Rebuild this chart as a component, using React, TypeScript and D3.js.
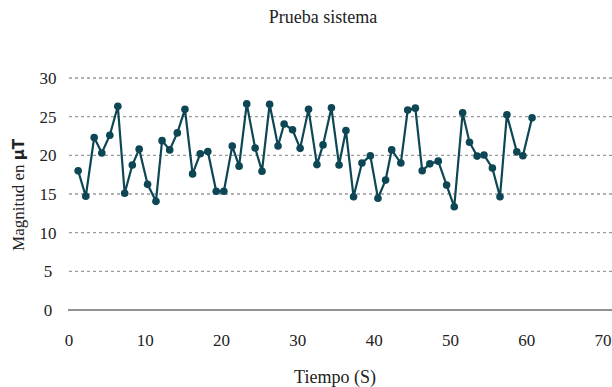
import React from "react";
import * as d3 from "d3";

const title = "Prueba sistema";
const xLabel = "Tiempo (S)";
const yLabelMain = "Magnitud en ";
const yLabelUnit = "μT";

const xTicks = [0, 10, 20, 30, 40, 50, 60, 70];
const yTicks = [0, 5, 10, 15, 20, 25, 30];

const times = [
  1.2, 2.2, 3.3, 4.3, 5.35, 6.4, 7.3, 8.3, 9.2, 10.3,
  11.4, 12.2, 13.2, 14.2, 15.2, 16.2, 17.2, 18.2, 19.3, 20.3,
  21.4, 22.3, 23.3, 24.4, 25.3, 26.3, 27.4, 28.2, 29.3, 30.3,
  31.4, 32.5, 33.3, 34.4, 35.4, 36.3, 37.3, 38.4, 39.5, 40.5,
  41.5, 42.3, 43.5, 44.4, 45.4, 46.3, 47.3, 48.4, 49.5, 50.5,
  51.6, 52.5, 53.5, 54.4, 55.5, 56.5, 57.4, 58.7, 59.5, 60.7,
];

const magnitudes = [
  18.0, 14.7, 22.3, 20.3, 22.6, 26.35, 15.1, 18.75, 20.8, 16.25,
  14.05, 21.9, 20.7, 22.9, 25.95, 17.6, 20.2, 20.5, 15.35, 15.35,
  21.2, 18.6, 26.65, 20.95, 17.95, 26.6, 21.2, 24.05, 23.3, 20.9,
  25.95, 18.8, 21.35, 26.15, 18.75, 23.2, 14.65, 19.0, 19.95, 14.45,
  16.8, 20.7, 19.0, 25.85, 26.1, 18.0, 18.9, 19.25, 16.15, 13.35,
  25.5, 21.7, 19.9, 20.05, 18.35, 14.65, 25.25, 20.45, 19.95, 24.85,
];

const W = 612;
const H = 387;
const color = "#0d4654";
const font = "'Liberation Serif', 'DejaVu Serif', serif";

export default function App() {
  const x = d3.scaleLinear().domain([0, 70]).range([69, 603]);
  const y = d3.scaleLinear().domain([0, 30]).range([310, 78]);
  const data = times.map((t, i) => ({ t, v: magnitudes[i] }));
  const line = d3
    .line<{ t: number; v: number }>()
    .x((d) => x(d.t))
    .y((d) => y(d.v));

  return (
    <svg
      width={W}
      height={H}
      style={{ position: "absolute", left: 0, top: 0, background: "#fff" }}
      fontFamily={font}
    >
      <text x={323} y={23} textAnchor="middle" fontSize={18} fill="#222">
        {title}
      </text>
      {yTicks
        .filter((t) => t > 0)
        .map((t) => (
          <line
            key={"g" + t}
            x1={x(0)}
            x2={W}
            y1={y(t)}
            y2={y(t)}
            stroke="#9a9a9a"
            strokeWidth={1.3}
            strokeDasharray="3,3"
          />
        ))}
      <line x1={x(0) - 1} x2={W} y1={y(0)} y2={y(0)} stroke="#222" strokeWidth={1} />
      {yTicks.map((t) => (
        <text
          key={"y" + t}
          x={48}
          y={y(t)}
          dy="0.35em"
          textAnchor="middle"
          fontSize={17}
          fill="#222"
        >
          {t}
        </text>
      ))}
      {xTicks.map((t) => (
        <text
          key={"x" + t}
          x={x(t)}
          y={340}
          dy="0.35em"
          textAnchor="middle"
          fontSize={17}
          fill="#222"
        >
          {t}
        </text>
      ))}
      <text x={335} y={383} textAnchor="middle" fontSize={18} fill="#222">
        {xLabel}
      </text>
      <text
        transform={`translate(24,195) rotate(-90)`}
        textAnchor="middle"
        fontSize={17}
        fill="#222"
      >
        {yLabelMain}
        <tspan fontFamily="'DejaVu Sans', sans-serif" fontWeight="bold" fontSize={15}>
          {yLabelUnit}
        </tspan>
      </text>
      <path d={line(data) || ""} fill="none" stroke={color} strokeWidth={2.2} />
      {data.map((d, i) => (
        <circle key={i} cx={x(d.t)} cy={y(d.v)} r={3.8} fill={color} />
      ))}
    </svg>
  );
}
